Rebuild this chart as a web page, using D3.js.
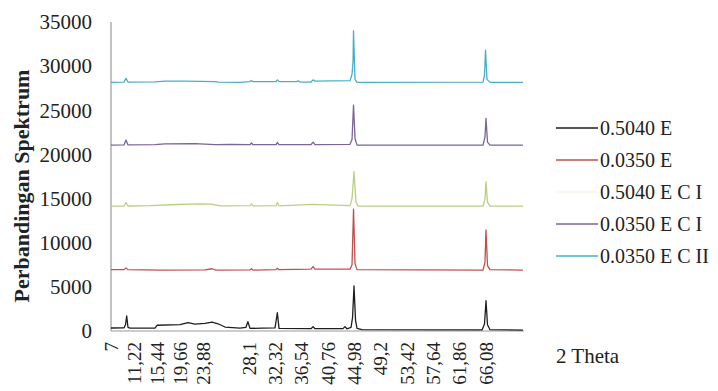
<!DOCTYPE html>
<html><head><meta charset="utf-8">
<script src="https://cdn.jsdelivr.net/npm/d3@7"></script>
<style>
html,body{margin:0;padding:0;background:#fff;}
svg{display:block;}
.serif{font-family:"Liberation Serif";}
</style></head>
<body>
<svg id="chart" width="718" height="391"></svg>
<script>
// ---- data (2θ in degrees, intensity) ----
const seriesNames = ["0.5040 E", "0.0350 E", "0.5040 E C I", "0.0350 E C I", "0.0350 E C II"];
const seriesColors = ["#1e1e1e", "#c0504d", "#b9cf82", "#7a6498", "#4aaec4"];
const legendLineOpacity = [1, 1, 0.12, 1, 1];

const black = [[7.0,340],[9.39,360],[9.66,700],[9.88,1700],[10.12,400],[10.49,330],[15.07,320],[15.44,650],[19.66,720],[21.13,950],[22.41,780],[24.06,860],[24.71,1000],[25.26,820],[25.9,450],[27.27,330],[27.82,420],[28.0,1050],[28.26,300],[30.18,320],[32.27,350],[32.64,2070],[32.91,300],[38.04,260],[38.36,500],[38.68,260],[43.16,270],[43.48,500],[43.8,250],[44.45,400],[44.69,1500],[44.93,5100],[45.17,1200],[45.41,300],[46.21,150],[65.44,120],[65.84,800],[66.08,3430],[66.32,700],[66.72,150],[72.0,100]];
const red = [[7.0,6950],[9.39,6950],[9.75,7150],[10.12,6950],[15.99,6900],[24.06,6930],[24.71,7050],[25.07,6900],[28.26,6920],[28.5,7050],[28.74,6900],[32.43,6950],[32.64,7100],[32.91,6950],[38.04,7000],[38.36,7300],[38.68,7000],[44.29,7000],[44.61,7500],[44.85,13800],[45.09,7600],[45.41,6950],[65.6,6900],[65.92,7800],[66.08,11440],[66.32,7400],[66.72,6950],[72.0,6900]];
const green = [[7.0,14150],[9.39,14160],[9.75,14550],[10.12,14160],[14.16,14200],[19.11,14330],[23.33,14400],[24.61,14380],[25.53,14180],[28.26,14200],[28.5,14400],[28.74,14180],[32.43,14200],[32.64,14550],[32.91,14180],[38.36,14350],[44.29,14200],[44.61,15000],[44.93,18040],[45.25,14600],[45.57,14150],[65.6,14150],[65.92,15000],[66.08,16900],[66.32,14600],[66.72,14150],[72.0,14150]];
const purple = [[7.0,21060],[9.39,21080],[9.75,21630],[10.12,21080],[15.07,21100],[16.91,21200],[22.41,21230],[25.0,21120],[26.4,21150],[28.26,21100],[28.5,21300],[28.74,21100],[32.43,21120],[32.64,21350],[32.91,21100],[38.04,21100],[38.36,21400],[38.68,21100],[44.29,21150],[44.61,21700],[44.85,25590],[45.09,21800],[45.41,21060],[65.6,21060],[65.92,22000],[66.08,24090],[66.32,21400],[66.72,21060],[72.0,21060]];
const cyan = [[7.0,28160],[9.39,28200],[9.75,28620],[10.12,28200],[15.07,28220],[16.91,28300],[20.58,28300],[23.33,28280],[25.0,28250],[25.26,28180],[27.27,28160],[28.26,28250],[28.42,28350],[28.74,28250],[32.43,28260],[32.64,28450],[32.91,28250],[35.79,28260],[35.95,28350],[36.27,28200],[38.04,28200],[38.36,28450],[38.68,28300],[44.29,28350],[44.61,29100],[44.77,30500],[44.85,34010],[45.09,28500],[45.41,28160],[65.6,28200],[65.84,29000],[66.0,31820],[66.24,28500],[66.72,28160],[72.0,28160]];
const seriesData = [black, red, green, purple, cyan];

const xTickLabels = ["7","11,22","15,44","19,66","23,88","28,1","32,32","36,54","40,76","44,98","49,2","53,42","57,64","61,86","66,08"];
const yTicks = [0,5000,10000,15000,20000,25000,30000,35000];
const xTitle = "2 Theta";
const yTitle = "Perbandingan Spektrum";

// ---- layout ----
const svg = d3.select("#chart");
const x = d3.scaleLinear().domain([7, 23.88, 28.1, 66.08]).range([111, 203, 249, 486]);
const y = d3.scaleLinear().domain([0, 35000]).range([331, 22]);
const xEnd = 72;

// axes lines
svg.append("line").attr("x1", x(7)).attr("x2", x(xEnd) + 1).attr("y1", y(0)).attr("y2", y(0))
  .attr("stroke", "#9a9a9a").attr("stroke-width", 1.2);
svg.append("line").attr("x1", x(7)).attr("x2", x(7)).attr("y1", y(35000)).attr("y2", y(0))
  .attr("stroke", "#9a9a9a").attr("stroke-width", 1.2);

// y tick labels
svg.append("g").selectAll("text").data(yTicks).join("text").attr("class", "serif")
  .attr("x", 92).attr("y", d => y(d)).attr("dy", "0.35em")
  .attr("text-anchor", "end").attr("font-size", 21).attr("fill", "#222")
  .text(d => d);

// x tick labels (rotated)
svg.append("g").selectAll("text").data(xTickLabels).join("text").attr("class", "serif")
  .attr("transform", d => `translate(${x(+d.replace(",", "."))},342) rotate(-90)`)
  .attr("dy", "0.35em").attr("text-anchor", "end").attr("font-size", 19).attr("fill", "#222")
  .text(d => d);

// axis titles
svg.append("text").attr("class", "serif").attr("x", 556).attr("y", 356).attr("dy", "0.35em")
  .attr("font-size", 21).attr("fill", "#222").text(xTitle);
svg.append("text").attr("class", "serif").attr("transform", "translate(21,186) rotate(-90)")
  .attr("text-anchor", "middle").attr("dy", "0.35em")
  .attr("font-size", 22).attr("font-weight", "bold").attr("fill", "#222").text(yTitle);

// lines
const line = d3.line().x(d => x(d[0])).y(d => y(d[1]));
svg.append("g").selectAll("path").data(seriesData).join("path")
  .attr("d", line).attr("fill", "none")
  .attr("stroke", (d, i) => seriesColors[i]).attr("stroke-width", 1.3)
  .attr("stroke-linejoin", "round");

// legend
const lg = svg.append("g").selectAll("g").data(seriesNames).join("g")
  .attr("transform", (d, i) => `translate(556,${128 + i * 32})`);
lg.append("line").attr("x1", 0).attr("x2", 42).attr("y1", 0).attr("y2", 0)
  .attr("stroke", (d, i) => seriesColors[i]).attr("stroke-width", 1.3)
  .attr("stroke-opacity", (d, i) => legendLineOpacity[i]);
lg.append("text").attr("class", "serif").attr("x", 44).attr("dy", "0.35em").attr("font-size", 20).attr("fill", "#222")
  .text(d => d);
</script>
</body></html>
